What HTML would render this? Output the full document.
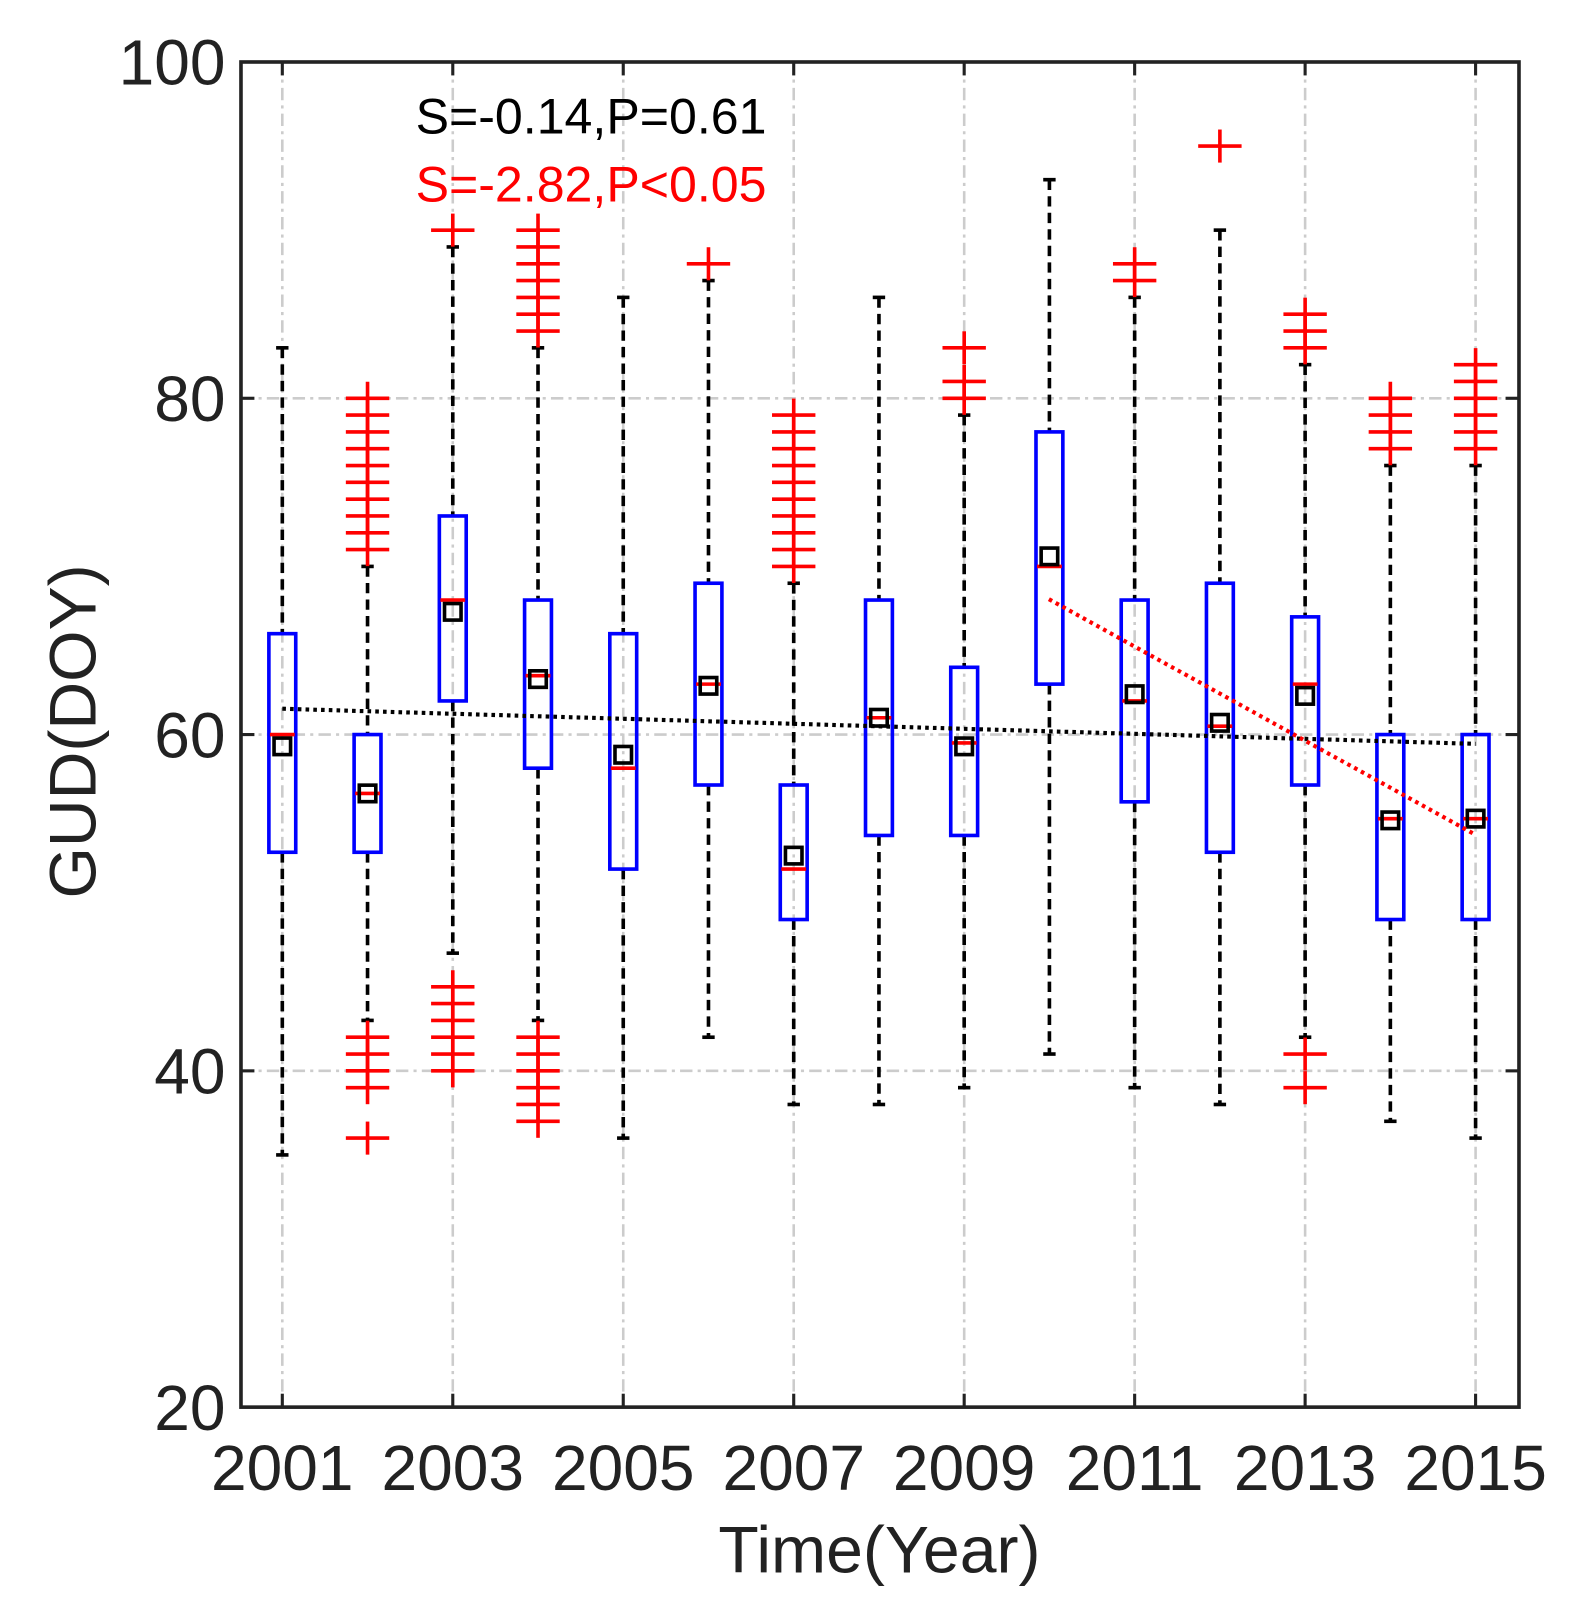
<!DOCTYPE html>
<html><head><meta charset="utf-8"><style>html,body{margin:0;padding:0;background:#fff}svg{display:block}</style></head>
<body>
<svg id="s" width="1574" height="1621" viewBox="0 0 1523 1569" xmlns="http://www.w3.org/2000/svg" font-family="Liberation Sans, Arial, sans-serif">
</svg>
<script>
const s=document.getElementById('s');let h='';
const Y=v=>1362-(v-20)*16.275, X=i=>273+i*82.5;
for(let v of [40,60,80]) h+=`<line x1="233" x2="1470" y1="${Y(v)}" y2="${Y(v)}" stroke="#ccc" stroke-width="2.5" stroke-dasharray="12,5,3,5"/>`;
for(let i=0;i<15;i+=2) h+=`<line x1="${X(i)}" x2="${X(i)}" y1="60" y2="1362" stroke="#ccc" stroke-width="2.5" stroke-dasharray="12,5,3,5"/>`;
const D=[
[35,53,60,66,83,59.3,[]],
[43,53,56.5,60,70,56.5,[71,72,73,74,75,76,77,78,79,80,42,41,40,39,36]],
[47,62,68,73,89,67.3,[90,40,41,42,43,44,45]],
[43,58,63.5,68,83,63.3,[84,85,86,87,88,89,90,37,38,39,40,41,42]],
[36,52,58,66,86,58.8,[]],
[42,57,63,69,87,62.9,[88]],
[38,49,52,57,69,52.8,[70,71,72,73,74,75,76,77,78,79]],
[38,54,61,68,86,61,[]],
[39,54,59.5,64,79,59.3,[80,81,83]],
[41,63,70,78,93,70.6,[]],
[39,56,62,68,86,62.4,[87,88]],
[38,53,60.5,69,90,60.7,[95]],
[42,57,63,67,82,62.3,[83,84,85,39,41]],
[37,49,55,60,76,54.9,[77,78,79,80]],
[36,49,55,60,76,55,[77,78,79,80,81,82]]];
D.forEach((d,i)=>{const x=X(i);
h+=`<line x1="${x}" x2="${x}" y1="${Y(d[4])}" y2="${Y(d[3])}" stroke="#000" stroke-width="3.5" stroke-dasharray="10,6"/>`;
h+=`<line x1="${x}" x2="${x}" y1="${Y(d[1])}" y2="${Y(d[0])}" stroke="#000" stroke-width="3.5" stroke-dasharray="10,6"/>`;
h+=`<line x1="${x-6}" x2="${x+6}" y1="${Y(d[4])}" y2="${Y(d[4])}" stroke="#000" stroke-width="3.5"/><line x1="${x-6}" x2="${x+6}" y1="${Y(d[0])}" y2="${Y(d[0])}" stroke="#000" stroke-width="3.5"/>`;
h+=`<rect x="${x-13}" y="${Y(d[3])}" width="26" height="${Y(d[1])-Y(d[3])}" fill="none" stroke="#00f" stroke-width="3.5"/>`;
h+=`<line x1="${x-12}" x2="${x+12}" y1="${Y(d[2])}" y2="${Y(d[2])}" stroke="#f00" stroke-width="3.5"/>`;
d[6].forEach(o=>{h+=`<line x1="${x-21}" x2="${x+21}" y1="${Y(o)}" y2="${Y(o)}" stroke="#f00" stroke-width="3.5"/><line x1="${x}" x2="${x}" y1="${Y(o)-16}" y2="${Y(o)+16}" stroke="#f00" stroke-width="3.5"/>`;});
h+=`<rect x="${x-8}" y="${Y(d[5])-8}" width="16" height="16" fill="none" stroke="#000" stroke-width="3.5"/>`;
});
h+=`<line x1="273" y1="686" x2="1428" y2="720" stroke="#000" stroke-width="4" stroke-dasharray="3.5,4"/>`;
h+=`<line x1="1015" y1="580" x2="1428" y2="808" stroke="#f00" stroke-width="4" stroke-dasharray="3.5,4"/>`;
h+=`<rect x="233" y="60" width="1237" height="1302" fill="none" stroke="#222" stroke-width="3.5"/>`;
for(let v of [40,60,80]){h+=`<line x1="233" x2="246" y1="${Y(v)}" y2="${Y(v)}" stroke="#222" stroke-width="3"/><line x1="1457" x2="1470" y1="${Y(v)}" y2="${Y(v)}" stroke="#222" stroke-width="3"/>`;}
for(let i=0;i<15;i+=2){h+=`<line x1="${X(i)}" x2="${X(i)}" y1="1349" y2="1362" stroke="#222" stroke-width="3"/><line x1="${X(i)}" x2="${X(i)}" y1="60" y2="73" stroke="#222" stroke-width="3"/>`;}
for(let v of [20,40,60,80,100]) h+=`<text x="218" y="${Y(v)+22}" font-size="62" text-anchor="end" fill="#222">${v}</text>`;
for(let i=0;i<15;i+=2) h+=`<text x="${X(i)}" y="1442" font-size="62" text-anchor="middle" fill="#222">${2001+i}</text>`;
h+=`<text x="851" y="1522" font-size="64" text-anchor="middle" fill="#222">Time(Year)</text>`;
h+=`<text transform="translate(92,708) rotate(-90)" font-size="64" text-anchor="middle" fill="#222">GUD(DOY)</text>`;
h+=`<text x="402" y="129" font-size="48.5" fill="#000">S=-0.14,P=0.61</text>`;
h+=`<text x="402" y="195" font-size="48.5" fill="#f00">S=-2.82,P&lt;0.05</text>`;
s.innerHTML=h;
</script>
</body></html>
